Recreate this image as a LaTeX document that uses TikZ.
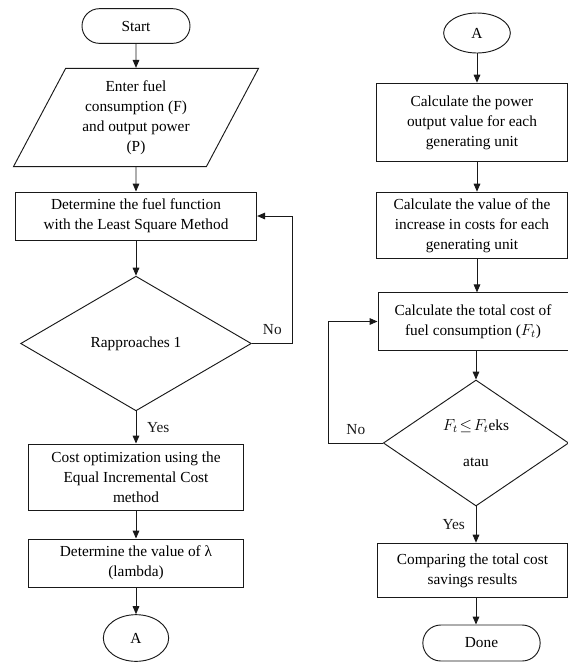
\documentclass[tikz,border=0pt]{standalone}
\usepackage{fontspec}
\setmainfont{Liberation Serif}
\usepackage{tikz}
\usetikzlibrary{shapes.geometric, shapes.misc, arrows.meta, positioning, calc}
\definecolor{mydark}{RGB}{25,25,25}
\newcommand{\flowfont}{\fontsize{11.5}{15}\selectfont}
\tikzset{
  block/.style={rectangle, draw=mydark, fill=white, align=center,
    inner sep=2pt, line width=0.7pt, font=\flowfont},
  term/.style={rounded rectangle, draw=mydark, fill=white, align=center,
    inner sep=2pt, line width=0.7pt, font=\flowfont},
  conn/.style={ellipse, draw=mydark, fill=white, align=center,
    inner sep=1pt, line width=0.7pt, font=\flowfont},
  inout/.style={trapezium, trapezium left angle=62, trapezium right angle=118,
    draw=mydark, fill=white, align=center, inner sep=1pt, line width=0.7pt, font=\flowfont},
  decision/.style={diamond, draw=mydark, fill=white, align=center,
    inner sep=0pt, line width=0.7pt, font=\flowfont},
  arrow/.style={-{Triangle[length=6pt, width=5pt]}, line width=0.7pt, color=mydark},
  lbl/.style={font=\flowfont, inner sep=2pt}
}

\begin{document}
\begin{tikzpicture}[x=0.75pt, y=-0.75pt]
  \useasboundingbox (0,0) rectangle (568,662);

  % Left column
  \node[term, minimum width=85pt, minimum height=26pt] (start) at (136,26) {Start};

  \node[inout, minimum width=184pt, minimum height=67pt] (input) at (136,117.5) {
    Enter fuel\\consumption (F)\\and output power\\(P)
  };

  \node[block, minimum width=181pt, minimum height=36pt] (fuelfn) at (136,216) {
    Determine the fuel function\\with the Least Square Method
  };

  \node[decision, minimum width=173pt, minimum height=101pt] (conv) at (136,343.5) {Rapproaches 1};

  \node[block, minimum width=161pt, minimum height=49.5pt] (optim) at (136,477) {
    Cost optimization using the\\Equal Incremental Cost\\method
  };

  \node[block, minimum width=161pt, minimum height=36pt] (lambda) at (136,563) {
    Determine the value of λ\\(lambda)
  };

  \node[conn, minimum width=49pt, minimum height=35pt] (outA) at (136,638) {A};

  % Right column
  \node[conn, minimum width=50pt, minimum height=30pt] (inA) at (477,33) {A};

  \node[block, minimum width=143pt, minimum height=59pt] (power) at (472,122.5) {
    Calculate the power\\output value for each\\generating unit
  };

  \node[block, minimum width=143pt, minimum height=50pt] (incr) at (472,225.5) {
    Calculate the value of the\\increase in costs for each\\generating unit
  };

  \node[block, minimum width=142.5pt, minimum height=43pt] (total) at (473,321.5) {
    Calculate the total cost of\\fuel consumption ($F_t$)
  };

  \node[decision, minimum width=139pt, minimum height=94.5pt] (check) at (476,443) {
    $F_t\!\leq\! F_t$eks\\[12pt]atau
  };

  \node[block, minimum width=143pt, minimum height=41pt] (compare) at (472.5,570.5) {
    Comparing the total cost\\savings results
  };

  \node[term, minimum width=92pt, minimum height=27pt] (done) at (481.5,643) {Done};

  % Connections (left)
  \draw[arrow] (start) -- (input);
  \draw[arrow] (input) -- (fuelfn);
  \draw[arrow] (fuelfn) -- (conv);
  \draw[arrow] (conv) -- node[lbl, right=6pt] {Yes} (optim);
  \draw[arrow] (optim) -- (lambda);
  \draw[arrow] (lambda) -- (outA);
  \draw[arrow] (conv.east) -- ++(41,0) node[lbl, midway, above=4pt] {No} |- (fuelfn.east);

  % Connections (right)
  \draw[arrow] (inA) -- (inA |- power.north);
  \draw[arrow] (power.south -| inA) -- (inA |- incr.north);
  \draw[arrow] (incr.south -| inA) -- (inA |- total.north);
  \draw[arrow] (total.south -| check) -- (check.north);
  \draw[arrow] (check) -- node[lbl, left=6pt] {Yes} (check |- compare.north);
  \draw[arrow] (compare.south -| check) -- (check |- done.north);
  \draw[arrow] (check.west) -- ++(-54,0) node[lbl, midway, above=4pt] {No} |- (total.west);
\end{tikzpicture}
\end{document}
